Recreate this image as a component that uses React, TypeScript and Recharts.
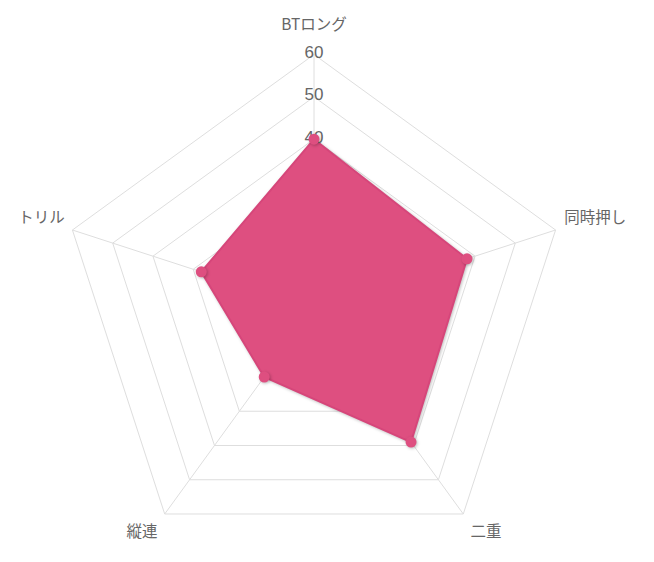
import { RadarChart, Radar, PolarGrid, PolarAngleAxis, PolarRadiusAxis } from "recharts";

const skills = ["BTロング", "同時押し", "二重", "縦連", "トリル"];
const scores = [40, 38, 39, 20, 28];
const radiusTicks = [0, 10, 20, 30, 40, 50, 60];

const data = skills.map((skill, i) => ({ skill, score: scores[i] }));

// label nudges per axis so the names sit like the original
const labelShift = [
  { dx: 0, dy: -24, anchor: "middle" },
  { dx: 1, dy: -12, anchor: "start" },
  { dx: 18, dy: 10, anchor: "middle" },
  { dx: -18, dy: 10, anchor: "middle" },
  { dx: 0, dy: -12, anchor: "end" },
];

function AngleTick(props: any) {
  const { x, y, payload, index } = props;
  const s = labelShift[index] || { dx: 0, dy: 0, anchor: "middle" };
  return (
    <text x={x + s.dx} y={y + s.dy} textAnchor={s.anchor} dominantBaseline="central" fontSize={15.5} fill="#666">
      {payload.value}
    </text>
  );
}

// the lower labels sit under the filled area in the original
function RadiusTick(props: any) {
  const { x, y, payload } = props;
  if (payload.value < 40) return <g />;
  return (
    <text x={x} y={y - 2} textAnchor="middle" dominantBaseline="central" fontSize={17} fill="#666" fontFamily="'Liberation Sans', Arial, sans-serif">
      {payload.value}
    </text>
  );
}

export default function App() {
  return (
    <div style={{ width: 654, height: 562, fontFamily: "'Noto Sans CJK JP', 'Noto Sans', sans-serif" }}>
      <RadarChart width={654} height={562} data={data} cx={306} cy={300.5} outerRadius={254} margin={{ top: 0, right: 0, bottom: 0, left: 0 }}>
        <PolarGrid gridType="polygon" stroke="#dedede" strokeWidth={1} />
        <PolarAngleAxis dataKey="skill" tick={<AngleTick />} tickLine={false} axisLine={false} />
        <PolarRadiusAxis
          angle={90}
          domain={[0, 60]}
          ticks={radiusTicks}
          tickCount={7}
          tick={<RadiusTick />}
          axisLine={false}
          tickLine={false}
        />
        <Radar
          dataKey="score"
          stroke="#d6467a"
          strokeWidth={2}
          fill="#de4f80"
          fillOpacity={1}
          dot={{ r: 4.5, fill: "#de4f80", stroke: "#de4f80" }}
          style={{ filter: "drop-shadow(1px 1px 1.5px rgba(0,0,0,0.25))" }}
          isAnimationActive={false}
        />
      </RadarChart>
    </div>
  );
}
